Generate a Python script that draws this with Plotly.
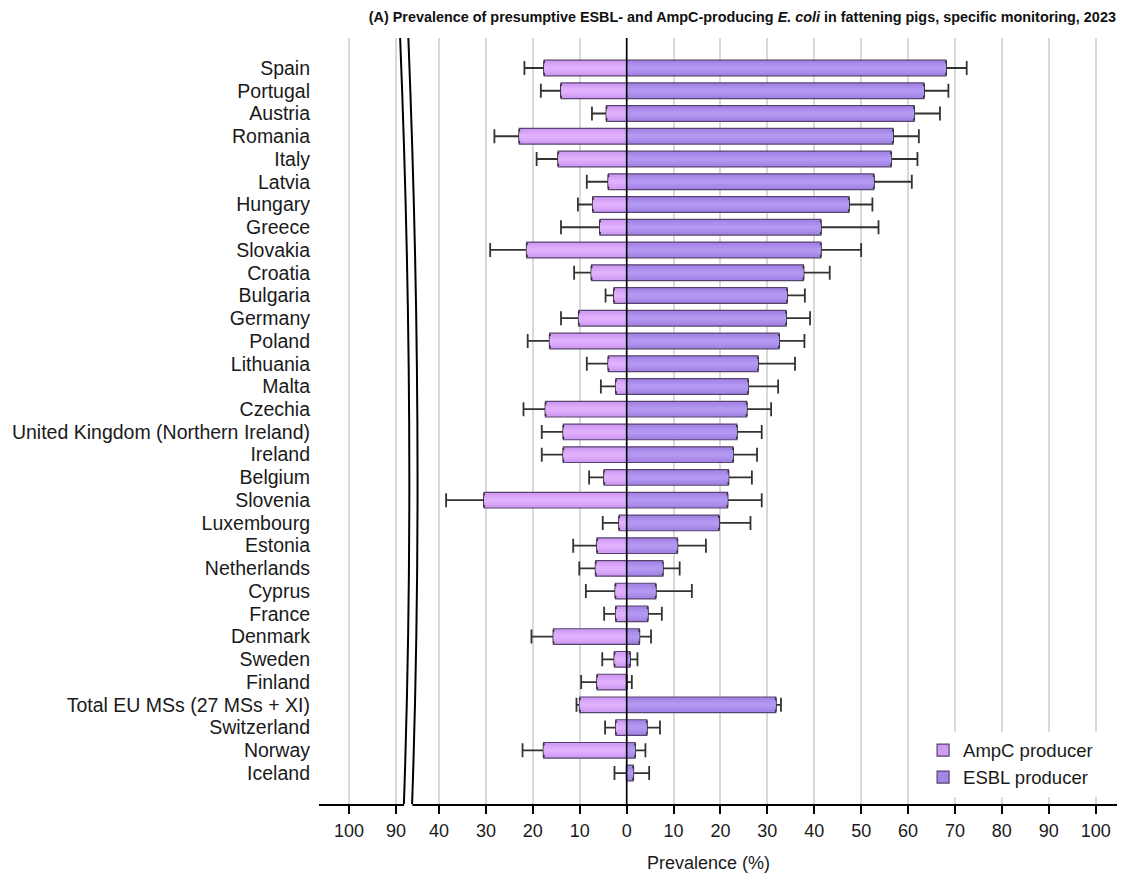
import plotly.graph_objects as go

countries = ["Spain", "Portugal", "Austria", "Romania", "Italy", "Latvia", "Hungary", "Greece",
             "Slovakia", "Croatia", "Bulgaria", "Germany", "Poland", "Lithuania", "Malta", "Czechia",
             "United Kingdom (Northern Ireland)", "Ireland", "Belgium", "Slovenia", "Luxembourg",
             "Estonia", "Netherlands", "Cyprus", "France", "Denmark", "Sweden", "Finland",
             "Total EU MSs (27 MSs + XI)", "Switzerland", "Norway", "Iceland"]

ampc = [17.6, 14.0, 4.3, 22.9, 14.6, 3.9, 7.2, 5.7, 21.3, 7.5, 2.7, 10.2, 16.4, 3.9, 2.3, 17.3,
        13.5, 13.5, 4.8, 30.4, 1.6, 6.3, 6.6, 2.4, 2.3, 15.6, 2.6, 6.3, 10.0, 2.3, 17.7, 0.0]
ampc_upper = [21.8, 18.3, 7.4, 28.2, 19.2, 8.5, 10.4, 14.0, 29.1, 11.2, 4.5, 14.0, 21.1, 8.5, 5.5, 22.0,
              18.1, 18.1, 8.0, 38.5, 5.1, 11.4, 10.1, 8.7, 4.8, 20.3, 5.2, 9.7, 10.7, 4.6, 22.2, 2.6]

esbl = [68.1, 63.4, 61.3, 56.8, 56.4, 52.7, 47.4, 41.4, 41.4, 37.7, 34.2, 34.0, 32.5, 28.0, 25.9, 25.6,
        23.5, 22.7, 21.7, 21.5, 19.7, 10.8, 7.7, 6.2, 4.5, 2.7, 0.7, 0.0, 31.8, 4.3, 1.8, 1.4]
esbl_upper = [72.5, 68.6, 66.8, 62.3, 62.0, 60.8, 52.4, 53.7, 50.0, 43.3, 38.0, 39.1, 37.9, 35.9, 32.3, 30.8,
              28.8, 27.8, 26.7, 28.8, 26.4, 16.9, 11.3, 13.9, 7.5, 5.2, 2.3, 1.1, 32.9, 7.1, 4.0, 4.8]

tick_vals = [-59.2, -49.2, -40, -30, -20, -10, 0, 10, 20, 30, 40, 50, 60, 70, 80, 90, 100]
tick_text = ["100", "90", "40", "30", "20", "10", "0", "10", "20", "30", "40", "50", "60", "70", "80", "90", "100"]

XMIN, XMAX = -65.6, 104.55
FONT = "Liberation Sans, Arial, sans-serif"
BORDER = "#54436e"
BAR_W = 0.69
ERR = dict(color="#333333", thickness=1.8, width=7)

fig = go.Figure()

ampc_x = [-v for v in ampc]

# AmpC: base bar with border and error bars, then lighter inner stripes (shading)
fig.add_trace(go.Bar(
    y=countries, x=ampc_x, orientation="h", name="AmpC producer",
    marker=dict(color="#d29cf4", line=dict(color=BORDER, width=1.2)),
    width=BAR_W, hoverinfo="x+y",
    error_x=dict(type="data", symmetric=False,
                 array=[0] * len(ampc),
                 arrayminus=[u - v for u, v in zip(ampc_upper, ampc)], **ERR),
))
fig.add_trace(go.Bar(
    y=countries, x=ampc_x, orientation="h", showlegend=False, hoverinfo="skip",
    marker=dict(color="#daa6f9", line=dict(width=0)), width=0.42,
))
fig.add_trace(go.Bar(
    y=countries, x=ampc_x, orientation="h", showlegend=False, hoverinfo="skip",
    marker=dict(color="#e0b0fc", line=dict(width=0)), width=0.2,
))

fig.add_trace(go.Bar(
    y=countries, x=esbl, orientation="h", name="ESBL producer",
    marker=dict(color="#a485e6", line=dict(color=BORDER, width=1.2)),
    width=BAR_W, hoverinfo="x+y",
    error_x=dict(type="data", symmetric=False,
                 array=[u - v for u, v in zip(esbl_upper, esbl)],
                 arrayminus=[0] * len(esbl), **ERR),
))
fig.add_trace(go.Bar(
    y=countries, x=esbl, orientation="h", showlegend=False, hoverinfo="skip",
    marker=dict(color="#ac8eed", line=dict(width=0)), width=0.42,
))
fig.add_trace(go.Bar(
    y=countries, x=esbl, orientation="h", showlegend=False, hoverinfo="skip",
    marker=dict(color="#b398f1", line=dict(width=0)), width=0.2,
))


def px(v):
    return (v - XMIN) / (XMAX - XMIN)


shapes = []
# zero line above bars
shapes.append(dict(type="line", xref="x", yref="y", x0=0, x1=0, y0=-1.32, y1=32.36,
                   line=dict(color="black", width=1.6), layer="above"))
# axis break: white band plus two wavy lines
l0, l1, l2, l3 = px(-48.3), px(-46.0), px(-45.8), px(-47.5)
d = 1.75 / (XMAX - XMIN)
band = (f"M {l0},1 C {l1},0.65 {l2},0.3 {l3},-0.01 L {l3 + d},-0.01 "
        f"C {l2 + d},0.3 {l1 + d},0.65 {l0 + d},1 Z")
shapes.append(dict(type="path", xref="paper", yref="paper", path=band,
                   fillcolor="white", line=dict(width=0), layer="above"))
for off in (0, d):
    p = f"M {l0 + off},1 C {l1 + off},0.65 {l2 + off},0.3 {l3 + off},0"
    shapes.append(dict(type="path", xref="paper", yref="paper", path=p,
                       line=dict(color="black", width=2), layer="above"))

fig.update_layout(
    width=1109, height=865,
    margin=dict(l=311, r=0, t=30, b=69),
    paper_bgcolor="white", plot_bgcolor="white",
    barmode="overlay",
    font=dict(family=FONT, size=16, color="#1a1a1a"),
    title=dict(text="<b>(A) Prevalence of presumptive ESBL- and AmpC-producing <i>E. coli</i> in fattening pigs, specific monitoring, 2023</b>",
               x=0.999, xanchor="right", xref="container", y=0.9896, yanchor="middle", yref="container",
               font=dict(family=FONT, size=14.4, color="#111111")),
    xaxis=dict(range=[XMIN, XMAX], tickvals=tick_vals, ticktext=tick_text,
               showgrid=True, gridcolor="#d9d9d9", gridwidth=1.5,
               zeroline=False, showline=True, linecolor="black", linewidth=1.5,
               ticks="outside", ticklen=8, tickwidth=1.5, tickcolor="black",
               ticklabelstandoff=2,
               tickfont=dict(size=18, color="#1a1a1a")),
    yaxis=dict(type="category", range=[32.36, -1.32], showgrid=False, zeroline=False,
               showline=False, ticks="", ticklabelstandoff=8,
               tickmode="array", tickvals=countries, ticktext=countries,
               tickfont=dict(size=19.5, color="#1a1a1a")),
    legend=dict(x=0.757, y=0.0946, xanchor="left", yanchor="top", bgcolor="white",
                font=dict(size=18.5, color="#1a1a1a"), traceorder="normal",
                itemwidth=30, tracegroupgap=0),
    shapes=shapes,
    annotations=[dict(text="Prevalence (%)", xref="paper", yref="paper", x=0.4875, y=-0.077,
                      xanchor="center", yanchor="middle", showarrow=False,
                      font=dict(size=18, color="#1a1a1a"))],
)

fig.write_html("out.html")
